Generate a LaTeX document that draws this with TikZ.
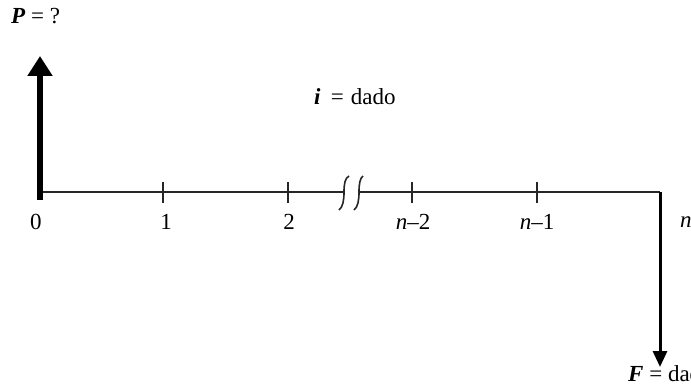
\documentclass[tikz,border=0pt]{standalone}
\usepackage{fontspec}
\setmainfont{Liberation Serif}
\usetikzlibrary{arrows.meta}
\begin{document}
\begin{tikzpicture}[x=1pt,y=-1pt,
  lbl/.style={font=\fontsize{23}{26}\selectfont, inner sep=0pt},
  axisline/.style={line width=2pt, draw=black!85},
  tickmark/.style={line width=1.8pt, draw=black!85},
  brk/.style={line width=1.6pt, draw=black!85},
  bigarrow/.style={line width=6pt, -{Triangle[length=20pt,width=24pt]}},
  downarrow/.style={line width=3pt, -{Triangle[length=16pt,width=14pt]}}]
\useasboundingbox (0,0) rectangle (691,385);
% coordinates
\coordinate (o) at (40,192);
\coordinate (t1) at (163,192);
\coordinate (t2) at (288,192);
\coordinate (b1) at (344,192);
\coordinate (b2) at (359,192);
\coordinate (t3) at (412,192);
\coordinate (t4) at (537,192);
\coordinate (e) at (660,192);
\coordinate (ptop) at (40,56);
\coordinate (pbot) at (40,200);
\coordinate (fbot) at (660,367);
% axis
\draw[axisline] (o) -- (b1);
\draw[axisline] (b2) -- (e);
% ticks
\foreach \c in {t1,t2,t3,t4}{
  \draw[tickmark] ([yshift=-11pt]\c) -- ([yshift=10pt]\c);
}
\draw[tickmark] ([yshift=-10pt]e) -- (e);
% break marks
\draw[brk] (339,210) .. controls (343,207) and (344,200) .. (344,192)
  .. controls (344,184) and (345,178) .. (349,176);
\draw[brk] (354,210) .. controls (358,207) and (359,200) .. (359,192)
  .. controls (359,184) and (360,178) .. (363,176);
% arrows
\draw[bigarrow] (pbot) -- (ptop);
\draw[downarrow] (e) -- (fbot);
% labels
\node[lbl] (l0) at (36,222) {0};
\node[lbl] (l1) at (166,222) {1};
\node[lbl] (l2) at (289,222) {2};
\node[lbl] (l3) at (413,222) {\textit{n}–2};
\node[lbl] (l4) at (537,222) {\textit{n}–1};
\node[lbl, anchor=west] (ln) at (680,222) {\textit{n}};
\node[lbl, anchor=west] (lp) at (11,16) {\textbf{\textit{P}} = ?};
\node[lbl, anchor=west] (li) at (314,97) {\textbf{\textit{i}}\hspace{0.45em}=\hspace{0.3em}dado};
\node[lbl, anchor=west] (lf) at (628,374) {\textbf{\textit{F}} = dado};
\end{tikzpicture}
\end{document}
